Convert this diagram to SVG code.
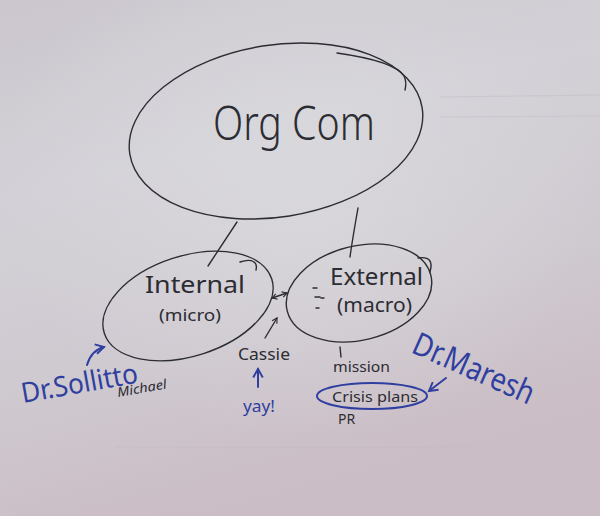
<svg xmlns="http://www.w3.org/2000/svg" width="600" height="516" viewBox="0 0 600 516">
<defs>
<linearGradient id="paper" x1="0" y1="0" x2="0.3" y2="1">
<stop offset="0" stop-color="#cbc6cd"/>
<stop offset="0.35" stop-color="#d3d1d7"/>
<stop offset="0.7" stop-color="#cfc9d0"/>
<stop offset="1" stop-color="#cbbdc5"/>
</linearGradient>
<radialGradient id="glow" cx="0.5" cy="0.35" r="0.5">
<stop offset="0" stop-color="#dcdce0" stop-opacity="0.7"/>
<stop offset="1" stop-color="#dcdce0" stop-opacity="0"/>
</radialGradient>
<marker id="bh" viewBox="0 0 10 10" refX="8" refY="5" markerWidth="6" markerHeight="6" orient="auto-start-reverse">
<path d="M1,1 L8,5 L1,9" fill="none" stroke="#2f3fa0" stroke-width="1.6"/>
</marker>
<marker id="kh" viewBox="0 0 10 10" refX="8" refY="5" markerWidth="5" markerHeight="5" orient="auto-start-reverse">
<path d="M1,1 L8,5 L1,9" fill="none" stroke="#2c2c33" stroke-width="1.6"/>
</marker>
</defs>
<style>
.ink{fill:none;stroke:#2c2c33;stroke-width:1.4;stroke-linecap:round}
.blue{fill:none;stroke:#2f3fa0;stroke-width:2;stroke-linecap:round}
.t{font-family:"Noto Sans","Liberation Sans",sans-serif;fill:#2c2c33}
.tb{font-family:"Noto Sans","Liberation Sans",sans-serif;fill:#2f3fa0}
</style>
<rect width="600" height="516" fill="url(#paper)"/>
<rect width="600" height="516" fill="url(#glow)"/>
<g stroke="#c0bcc5" stroke-width="1" opacity="0.5">
<line x1="440" y1="97" x2="600" y2="95"/>
<line x1="440" y1="117" x2="600" y2="116"/>
<line x1="115" y1="447" x2="600" y2="448"/>
</g>

<g id="orgcom">
<ellipse cx="276" cy="131" rx="148" ry="86" transform="rotate(-9 276 131)" class="ink"/>
<path d="M337,53 C372,58 398,66 404,76 C407,82 406,86 405,90" class="ink"/>
<text x="213" y="140" class="t" font-size="48" font-weight="300" textLength="162" lengthAdjust="spacingAndGlyphs">Org Com</text>
</g>

<g id="internal">
<ellipse cx="188" cy="306" rx="88" ry="50" transform="rotate(-18 188 306)" class="ink"/>
<path d="M240,262 C252,258 258,262 256,270" class="ink"/>
<text x="145" y="293" class="t" font-size="24" textLength="100" lengthAdjust="spacingAndGlyphs">Internal</text>
<text x="159" y="321" class="t" font-size="17" textLength="62" lengthAdjust="spacingAndGlyphs">(micro)</text>
</g>

<g id="external">
<ellipse cx="359" cy="293" rx="74" ry="47" transform="rotate(-14 359 293)" class="ink"/>
<path d="M418,258 C430,256 433,262 430,272" class="ink"/>
<text x="330" y="285" class="t" font-size="23" textLength="93" lengthAdjust="spacingAndGlyphs">External</text>
<text x="337" y="312" class="t" font-size="19" textLength="75" lengthAdjust="spacingAndGlyphs">(macro)</text>
<path d="M313,288 h4 M315,297 h5 M321,298 h3 M316,308 h3" class="ink" stroke-width="1"/>
</g>

<g id="cassie">
<text x="238" y="360" class="t" font-size="16" textLength="52" lengthAdjust="spacingAndGlyphs">Cassie</text>
</g>
<g id="yay">
<text x="243" y="412" class="tb" font-size="17" textLength="32" lengthAdjust="spacingAndGlyphs">yay!</text>
</g>
<g id="mission">
<text x="333" y="372" class="t" font-size="14" textLength="57" lengthAdjust="spacingAndGlyphs">mission</text>
</g>
<g id="crisis">
<ellipse cx="372" cy="396" rx="55" ry="13" class="blue"/>
<text x="332" y="402" class="t" font-size="15" textLength="86" lengthAdjust="spacingAndGlyphs">Crisis plans</text>
</g>
<g id="pr">
<text x="338" y="424" class="t" font-size="14">PR</text>
</g>
<g id="sollitto">
<text x="23" y="403" class="tb" font-size="28" transform="rotate(-10 23 403)" textLength="118" lengthAdjust="spacingAndGlyphs">Dr.Sollitto</text>
<text x="118" y="397" class="t" font-size="13" font-style="italic" transform="rotate(-10 118 397)" textLength="50" lengthAdjust="spacingAndGlyphs">Michael</text>
</g>
<g id="maresh">
<text x="410" y="352" class="tb" font-size="32" transform="rotate(24 410 352)" textLength="130" lengthAdjust="spacingAndGlyphs">Dr.Maresh</text>
</g>

<g id="connectors">
<path d="M237,222 L208,266" class="ink"/>
<path d="M358,208 C355,225 352,242 350,257" class="ink"/>
<path d="M272,298 L287,293" class="ink" marker-start="url(#kh)" marker-end="url(#kh)"/>
<path d="M265,338 L277,318" class="ink" marker-end="url(#kh)"/>
<path d="M340,347 L341,357" class="ink"/>
<path d="M258,387 L258,369" class="blue" marker-end="url(#bh)"/>
<path d="M87,365 C90,355 96,349 104,347" class="blue" marker-end="url(#bh)"/>
<path d="M446,378 L429,391" class="blue" marker-end="url(#bh)"/>
</g>
</svg>
